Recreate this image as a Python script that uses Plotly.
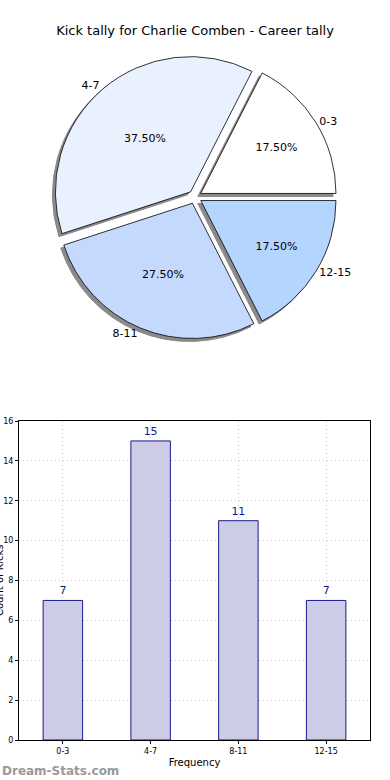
import plotly.graph_objects as go

# Data
categories = ["0-3", "4-7", "8-11", "12-15"]
counts = [7, 15, 11, 7]
pie_colors = ["#FFFFFF", "#EAF1FE", "#C5D8FE", "#B4D5FE"]
title = "Kick tally for Charlie Comben - Career tally"
y_ticks = [0, 2, 4, 6, 8, 10, 12, 14, 16]

W, H = 390, 780
FONT = "DejaVu Sans"

def px_dom(x0, x1, y0, y1):
    return dict(x=[x0 / W, x1 / W], y=[1 - y1 / H, 1 - y0 / H])

cx, cy, half = 195, 197, 142
pull = [0.05] * len(categories)
rot = 27

fig = go.Figure()

# shadow pie
sh = 3
fig.add_trace(go.Pie(
    labels=categories, values=counts, sort=False, direction="counterclockwise",
    rotation=rot, pull=pull,
    marker=dict(colors=["#8a8a8a"] * 4, line=dict(color="#8a8a8a", width=1)),
    textinfo="none", hoverinfo="skip", showlegend=False,
    domain=px_dom(cx - half - sh, cx + half - sh, cy - half + sh, cy + half + sh),
))
# main pie with percentages
fig.add_trace(go.Pie(
    labels=categories, values=counts, sort=False, direction="counterclockwise",
    rotation=rot, pull=pull,
    marker=dict(colors=pie_colors, line=dict(color="#000000", width=0.8)),
    texttemplate="%{percent:.2%}", textposition="inside", insidetextorientation="horizontal",
    textfont=dict(family=FONT, size=11, color="#000000"),
    showlegend=False,
    domain=px_dom(cx - half, cx + half, cy - half, cy + half),
))
# transparent pie for outside labels
fig.add_trace(go.Pie(
    labels=categories, values=counts, sort=False, direction="counterclockwise",
    rotation=rot, pull=pull,
    marker=dict(colors=["rgba(0,0,0,0)"] * 4, line=dict(width=0)),
    texttemplate="%{label}", textposition="outside",
    textfont=dict(family=FONT, size=11, color="#000000"),
    hoverinfo="skip", showlegend=False,
    domain=px_dom(cx - half, cx + half, cy - half, cy + half),
))

# bar chart
fig.add_trace(go.Bar(
    x=categories, y=counts, width=0.45,
    marker=dict(color="#CCCCE6", line=dict(color="#1A1A8C", width=1)),
    text=counts, textposition="outside", cliponaxis=False,
    textfont=dict(family=FONT, size=11, color="#1A1A8C"),
    showlegend=False, xaxis="x", yaxis="y",
))

bar_dom = px_dom(19, 370, 421, 740)
grid = dict(showgrid=True, gridcolor="#c4c4c4", griddash="1px,3px", gridwidth=1)
fig.update_layout(
    width=W, height=H, margin=dict(l=0, r=0, t=0, b=0),
    paper_bgcolor="white", plot_bgcolor="white",
    font=dict(family=FONT, color="#000000"),
    title=dict(text=title, x=0.5, xanchor="center", y=1 - 30 / H, yanchor="middle",
               font=dict(family=FONT, size=13, color="#000000")),
    xaxis=dict(domain=bar_dom["x"], type="category", range=[-0.5, 3.5], automargin=False,
               showline=True, linecolor="#000000", mirror=True, linewidth=1,
               ticks="outside", ticklen=3, tickcolor="#000000",
               tickfont=dict(size=8, family=FONT), zeroline=False,
               title=dict(text="Frequency", font=dict(size=10, family=FONT), standoff=4),
               **grid),
    yaxis=dict(domain=bar_dom["y"], range=[0, 16], tickvals=y_ticks, automargin=False,
               showline=True, linecolor="#000000", mirror=True, linewidth=1,
               ticks="outside", ticklen=3, tickcolor="#000000",
               tickfont=dict(size=8, family=FONT), zeroline=False, **grid),
    bargap=0.5,
    annotations=[
        dict(text="Count of Kicks", textangle=-90, x=-1 / W, y=1 - 580 / H,
             xref="paper", yref="paper", xanchor="center", yanchor="middle",
             showarrow=False, font=dict(size=10, family=FONT, color="#000000")),
        dict(text="<b>Dream-Stats.com</b>", x=0, y=1 - 771 / H, xref="paper", yref="paper",
             xanchor="left", yanchor="middle", showarrow=False,
             font=dict(size=12, family=FONT, color="#999999")),
    ],
)

fig.write_html("out.html", config={"displayModeBar": False},
               post_script="document.body.style.margin='0';document.body.style.overflow='hidden';")
